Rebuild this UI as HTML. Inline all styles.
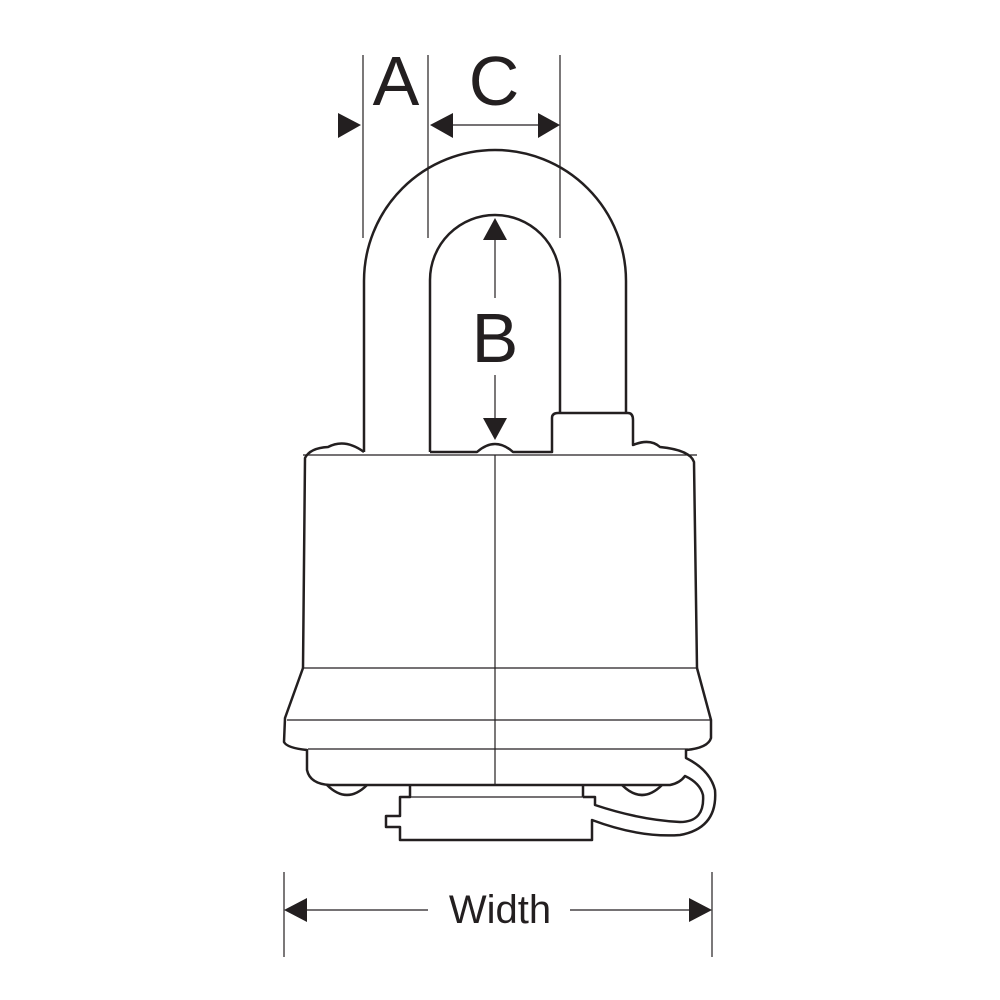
<!DOCTYPE html>
<html><head><style>html,body{margin:0;padding:0;background:#fff}svg{display:block}</style></head>
<body>
<svg width="1000" height="1000" viewBox="0 0 1000 1000" xmlns="http://www.w3.org/2000/svg">
<g fill="none" stroke="#231f20" stroke-width="1.2">
<line x1="363" y1="55" x2="363" y2="238"/>
<line x1="428" y1="55" x2="428" y2="238"/>
<line x1="560" y1="55" x2="560" y2="238"/>
<line x1="450" y1="125" x2="540" y2="125"/>
<line x1="495" y1="240" x2="495" y2="298"/>
<line x1="495" y1="375" x2="495" y2="420"/>
<line x1="495" y1="455" x2="495" y2="785"/>
<line x1="284" y1="872" x2="284" y2="957"/>
<line x1="712" y1="872" x2="712" y2="957"/>
<line x1="305" y1="910" x2="428" y2="910"/>
<line x1="570" y1="910" x2="692" y2="910"/>
<line x1="303" y1="668" x2="697" y2="668"/>
<line x1="287" y1="720" x2="711" y2="720"/>
<line x1="308" y1="749" x2="688" y2="749"/>
<line x1="410" y1="797" x2="583" y2="797"/>
<line x1="303" y1="455" x2="697" y2="455"/>
</g>
<g fill="#231f20">
<polygon points="338,113 361,125 338,138"/>
<polygon points="430,125 453,113 453,138"/>
<polygon points="560,125 538,113 538,138"/>
<polygon points="495,218 483,240 507,240"/>
<polygon points="495,440 483,418 507,418"/>
<polygon points="284,910 307,898 307,922"/>
<polygon points="712,910 689,898 689,922"/>
</g>
<g fill="none" stroke="#231f20" stroke-width="2.5" stroke-linejoin="round">
<path d="M364,452 L364,281 A131,131 0 0 1 626,281 L626,413"/>
<path d="M430,452 L430,280 A65,65 0 0 1 560,280 L560,413"/>
<path d="M430,452 L477,452 Q495,436 513,452 L552,452 L552,418 Q552,413 558,413 L628,413 Q633,413 633,420 L633,445 Q650,438 660,447 Q690,450 694,462 L697,668"/>
<path d="M364,452 Q345,438 328,447 Q310,448 305,458 L303,668"/>
<path d="M303,668 L285,718 L284,742 Q287,748 307,750 L307,770 Q310,784 330,785 L670,785 Q680,783 685,776 Q700,783 703,795 Q705,822 680,822 Q640,820 595,805 L595,797 L583,797"/>
<path d="M410,785 L410,797 L400,797 L400,816 L386,816 L386,827 L400,827 L400,840 L592,840 L592,820 Q640,838 680,835 Q718,828 715,790 Q710,770 686,758 L686,750 Q708,748 711,738 L711,720 L697,668"/>
<path d="M583,785 L583,797"/>
<path d="M410,797 L410,797"/>
<path d="M327,785 Q347,805 367,785"/>
<path d="M622,785 Q642,805 662,785"/>
</g>
<g fill="#231f20" font-family="'Liberation Sans', sans-serif" text-anchor="middle">
<text x="396" y="105" font-size="70">A</text>
<text x="494" y="105" font-size="70">C</text>
<text x="495" y="362" font-size="70">B</text>
<text x="500" y="923" font-size="40">Width</text>
</g>
</svg>
</body></html>
